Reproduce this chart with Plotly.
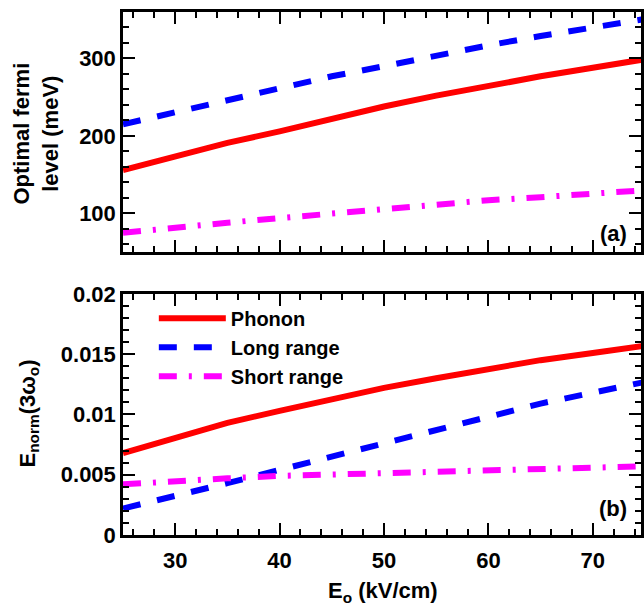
import plotly.graph_objects as go

# ---- data ----
field = [25, 30, 35, 40, 45, 50, 55, 60, 65, 70, 75]  # E_o (kV/cm)

fermi_phonon = [156, 174, 191, 206, 222, 238, 252, 265, 277, 288, 299]
fermi_long = [215, 231, 247, 262, 277, 290, 304, 317, 329, 340, 351]
fermi_short = [75, 82, 88, 94, 100, 106, 111, 117, 121, 126, 130]

enorm_phonon = [0.0068, 0.0081, 0.0093, 0.0103, 0.0113, 0.0122, 0.0130, 0.0138, 0.0145, 0.0151, 0.0157]
enorm_long = [0.0022, 0.0032, 0.0043, 0.0054, 0.0065, 0.0077, 0.0088, 0.0099, 0.0109, 0.0118, 0.0127]
enorm_short = [0.0042, 0.0045, 0.0047, 0.0049, 0.0050, 0.0052, 0.0053, 0.0054, 0.0055, 0.0056, 0.0057]

series_names = ["Phonon", "Long range", "Short range"]
x_ticks = [30, 40, 50, 60, 70]
ya_ticks = [100, 200, 300]
yb_ticks = [0, 0.005, 0.01, 0.015, 0.02]
yb_ticktext = ["0", "0.005", "0.01", "0.015", "0.02"]

# ---- styling ----
FONT = "Liberation Sans, Arial, Helvetica, sans-serif"
styles = [
    dict(color="#ff0000", width=6, dash="solid"),
    dict(color="#0000ff", width=6, dash="18px,17px"),
    dict(color="#ff00ff", width=6, dash="18px,12px,3px,12px"),
]

W, H = 644, 610
ML, MR, MT, MB = 123, 0, 8, 75
plot_h = H - MT - MB
plot_w = W - ML - MR


def py(px):
    return (H - MB - px) / plot_h


def pxx(px):
    return (px - ML) / plot_w


fig = go.Figure()

top_vals = [fermi_phonon, fermi_long, fermi_short]
bot_vals = [enorm_phonon, enorm_long, enorm_short]
for i, name in enumerate(series_names):
    fig.add_trace(go.Scatter(x=field, y=top_vals[i], mode="lines", line=styles[i],
                             name=name, showlegend=False, xaxis="x", yaxis="y"))
for i, name in enumerate(series_names):
    fig.add_trace(go.Scatter(x=field, y=bot_vals[i], mode="lines", line=styles[i],
                             name=name, showlegend=True, xaxis="x2", yaxis="y2"))

xr = [25, 25 + plot_w / 10.5]
axis_common = dict(showline=True, linecolor="black", linewidth=2.5, mirror="ticks",
                   ticks="inside", tickwidth=2, ticklen=12, tickcolor="black",
                   showgrid=False, zeroline=False,
                   tickfont=dict(family=FONT, size=22, color="black", weight="bold"))
minor_common = dict(ticks="inside", ticklen=6, tickwidth=2, tickcolor="black")

fig.update_layout(
    width=W, height=H,
    margin=dict(l=ML, r=MR, t=MT, b=MB),
    paper_bgcolor="white", plot_bgcolor="white",
    font=dict(family=FONT, color="black"),
    xaxis=dict(domain=[0, 1], range=xr, anchor="y", tickvals=x_ticks, showticklabels=False,
               minor=dict(dtick=2, tick0=0, **minor_common), **axis_common),
    yaxis=dict(domain=[py(250), 1], range=[50, 360], anchor="x", tickvals=ya_ticks,
               minor=dict(dtick=20, tick0=0, **minor_common), **axis_common),
    xaxis2=dict(domain=[0, 1], range=xr, anchor="y2", tickvals=x_ticks, ticklabelstandoff=4,
                minor=dict(dtick=2, tick0=0, **minor_common), **axis_common),
    yaxis2=dict(domain=[0, py(292)], range=[0, 0.02], anchor="x2", tickvals=yb_ticks,
                ticktext=yb_ticktext,
                minor=dict(dtick=0.001, tick0=0, **minor_common), **axis_common),
    legend=dict(x=pxx(154), y=py(297), xanchor="left", yanchor="top",
                bgcolor="rgba(0,0,0,0)", itemwidth=67,
                font=dict(family=FONT, size=20, color="black", weight="bold")),
    annotations=[
        dict(text="<b>Optimal fermi<br>level (meV)</b>", xref="paper", yref="paper",
             x=pxx(36), y=py(131), textangle=-90, showarrow=False,
             xanchor="center", yanchor="middle",
             font=dict(family=FONT, size=22, color="black")),
        dict(text="<b>E<sub>norm</sub>(3ω<sub>o</sub>)</b>", xref="paper", yref="paper",
             x=pxx(28), y=py(413), textangle=-90, showarrow=False,
             xanchor="center", yanchor="middle",
             font=dict(family=FONT, size=22, color="black")),
        dict(text="<b>E<sub>o</sub> (kV/cm)</b>", xref="paper", yref="paper",
             x=pxx(385), y=py(592), showarrow=False,
             xanchor="center", yanchor="middle",
             font=dict(family=FONT, size=22, color="black")),
        dict(text="<b>(a)</b>", xref="paper", yref="paper",
             x=pxx(632), y=py(231), showarrow=False,
             xanchor="right", yanchor="middle",
             font=dict(family=FONT, size=22, color="black")),
        dict(text="<b>(b)</b>", xref="paper", yref="paper",
             x=pxx(632), y=py(508), showarrow=False,
             xanchor="right", yanchor="middle",
             font=dict(family=FONT, size=22, color="black")),
    ],
)

fig.write_html("out.html", config={"displayModeBar": False},
               post_script="document.body.style.margin='0';document.body.style.padding='0';")
